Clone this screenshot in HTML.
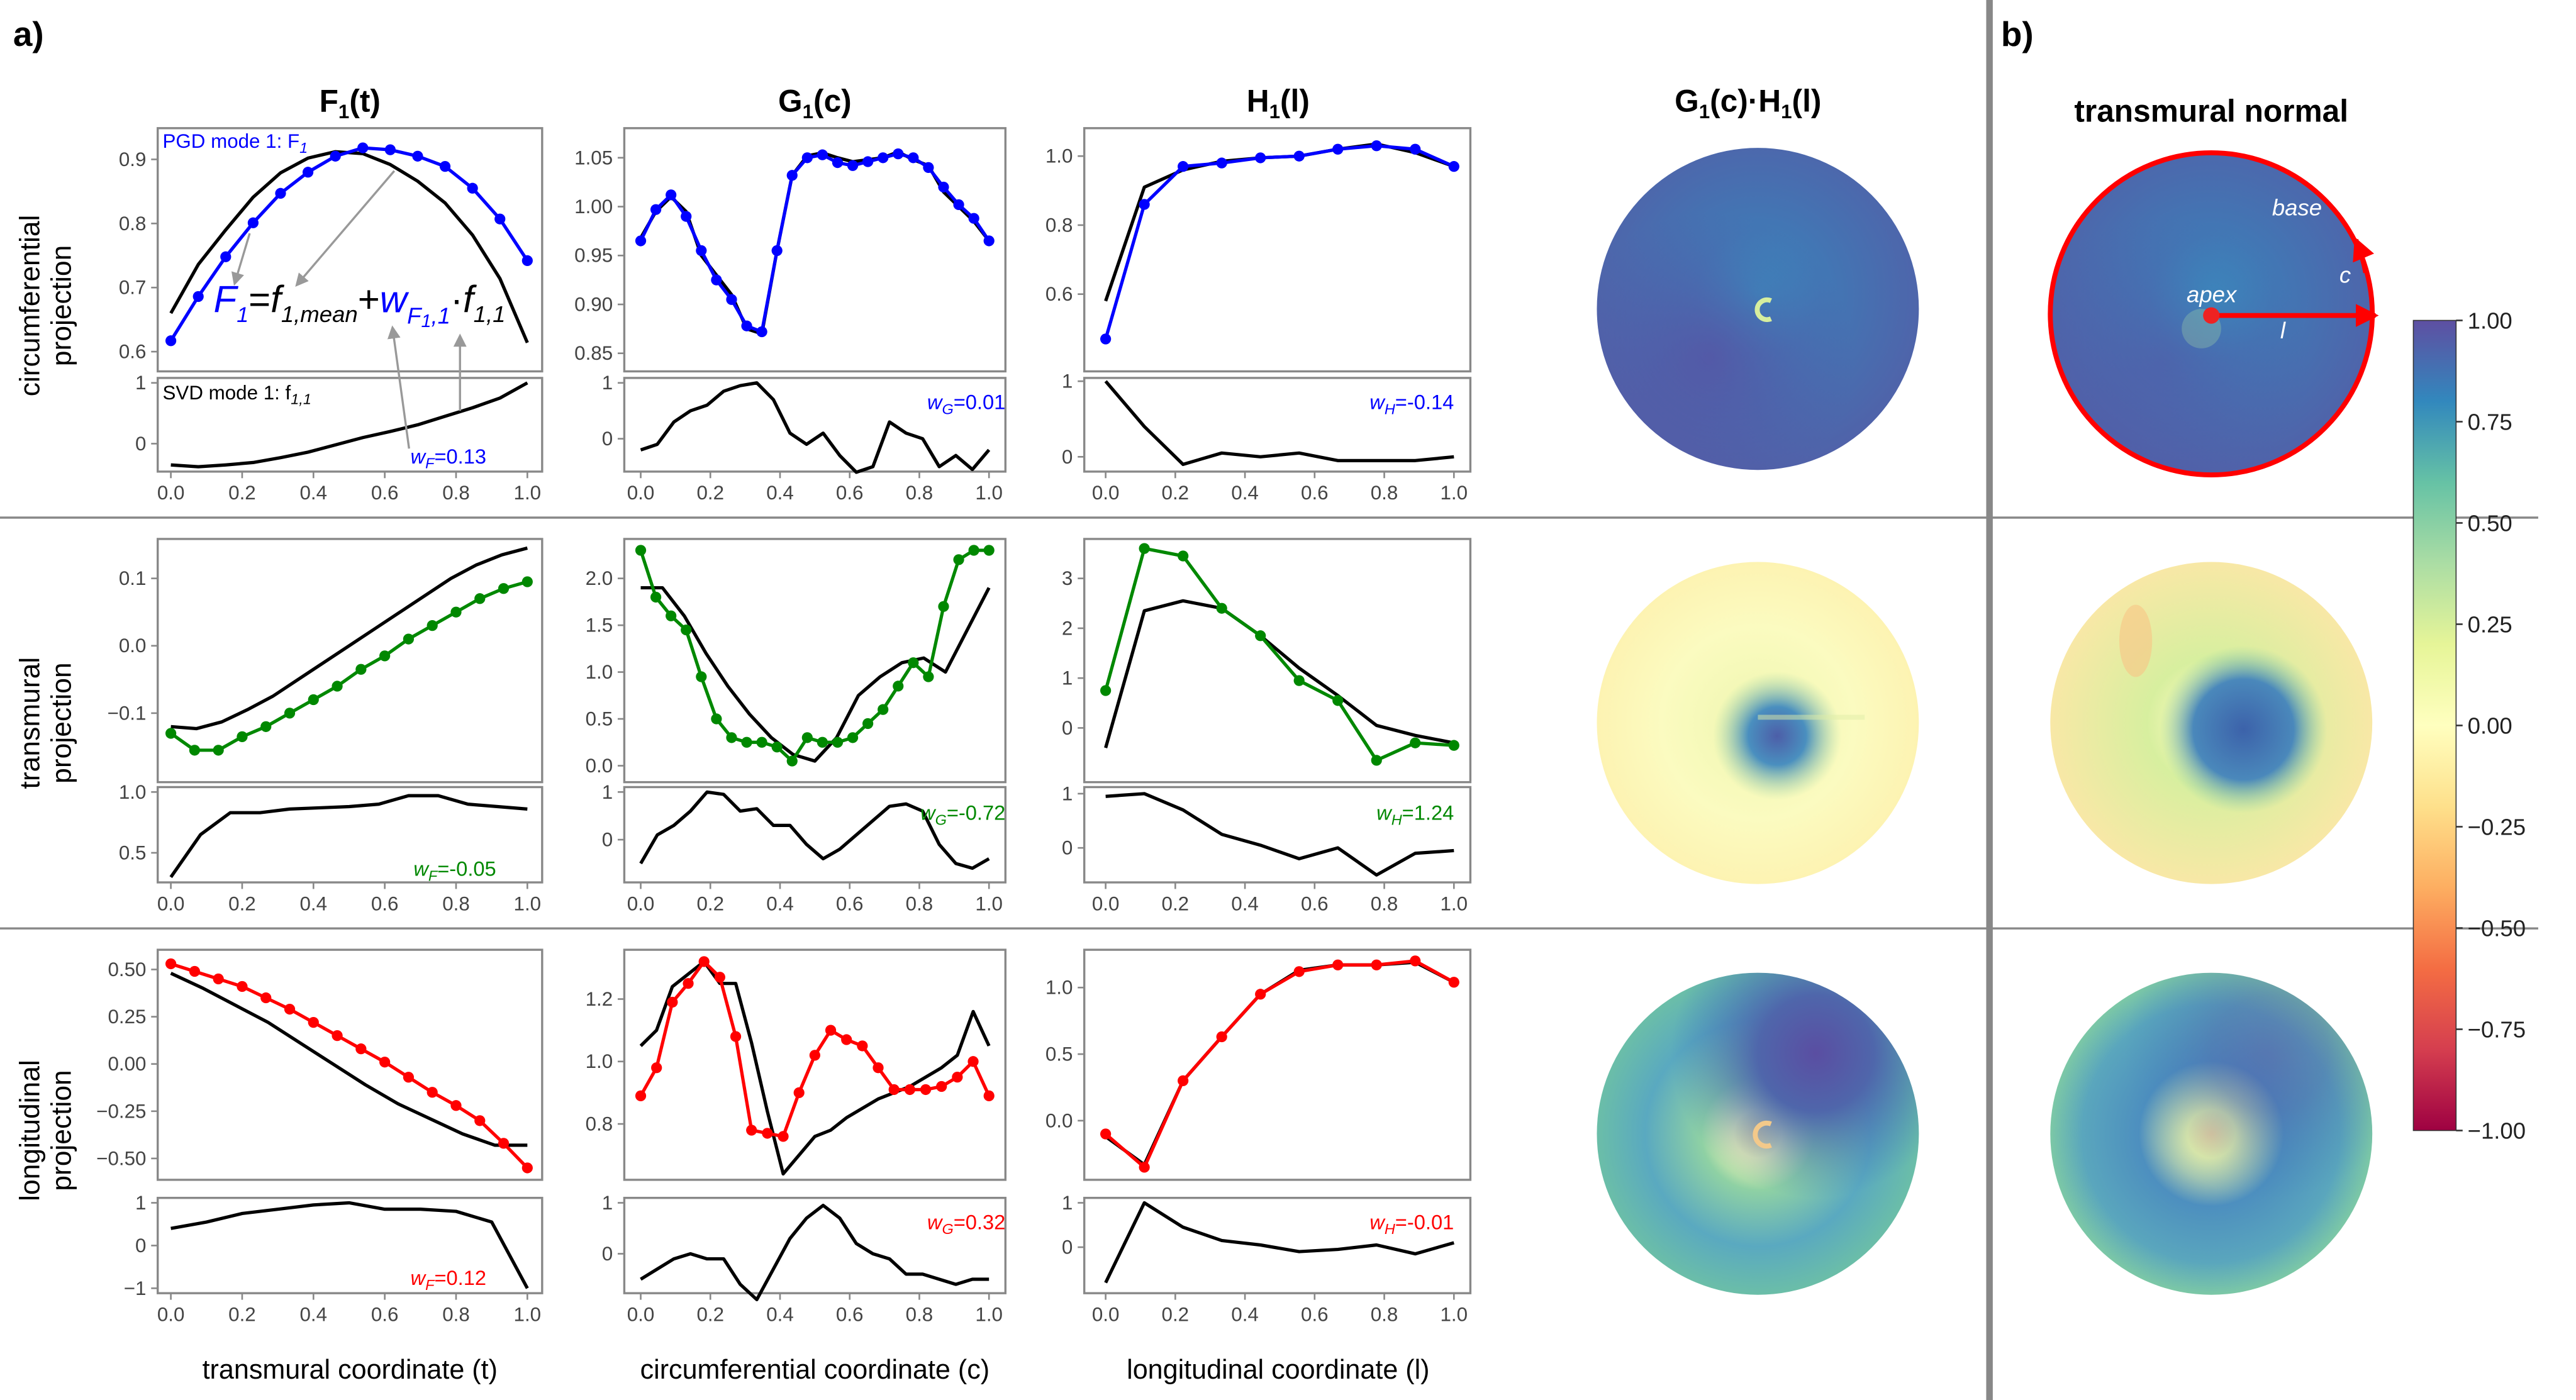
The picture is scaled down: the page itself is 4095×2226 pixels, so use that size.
<!DOCTYPE html>
<html><head><meta charset="utf-8"><style>
html,body{margin:0;padding:0;background:#fff}
svg{display:block}
text{font-family:"Liberation Sans","DejaVu Sans",sans-serif}
</style></head><body>
<svg id="fig" width="4095" height="2226" viewBox="0 0 1568 852" preserveAspectRatio="none" xmlns="http://www.w3.org/2000/svg">
<defs>
<linearGradient id="cbar" x1="0" y1="0" x2="0" y2="1">
<stop offset="0" stop-color="#5e4fa2"/><stop offset="0.1" stop-color="#3288bd"/><stop offset="0.2" stop-color="#66c2a5"/><stop offset="0.3" stop-color="#abdda4"/><stop offset="0.4" stop-color="#e6f598"/><stop offset="0.5" stop-color="#ffffbf"/><stop offset="0.6" stop-color="#fee08b"/><stop offset="0.7" stop-color="#fdae61"/><stop offset="0.8" stop-color="#f46d43"/><stop offset="0.9" stop-color="#d53e4f"/><stop offset="1" stop-color="#9e0142"/>
</linearGradient>
<radialGradient id="g1" cx="0.5" cy="0.45" r="0.55"><stop offset="0" stop-color="#3690c0"/><stop offset="0.35" stop-color="#4178b5"/><stop offset="1" stop-color="#5062a9"/></radialGradient>
<radialGradient id="g1b" cx="0.35" cy="0.65" r="0.45"><stop offset="0" stop-color="#5a4ea2" stop-opacity="0.7"/><stop offset="1" stop-color="#5a4ea2" stop-opacity="0"/></radialGradient>
<radialGradient id="g2" cx="0.5" cy="0.5" r="0.5"><stop offset="0" stop-color="#eef6b0"/><stop offset="0.6" stop-color="#fbfbc0"/><stop offset="1" stop-color="#fdf3b2"/></radialGradient>
<radialGradient id="g2b" cx="0.56" cy="0.54" r="0.2"><stop offset="0" stop-color="#4c5ea8"/><stop offset="0.45" stop-color="#4a8fbf"/><stop offset="1" stop-color="#9fd6a6" stop-opacity="0"/></radialGradient>
<radialGradient id="g3" cx="0.5" cy="0.5" r="0.5"><stop offset="0" stop-color="#f7e6a0"/><stop offset="0.15" stop-color="#f6f8b8"/><stop offset="0.4" stop-color="#d7ef9f"/><stop offset="1" stop-color="#f8e8a6"/></radialGradient>
<radialGradient id="g3b" cx="0.6" cy="0.52" r="0.26"><stop offset="0" stop-color="#3c62aa"/><stop offset="0.6" stop-color="#4a88bb"/><stop offset="1" stop-color="#8ccfa6" stop-opacity="0"/></radialGradient>
<radialGradient id="g4" cx="0.5" cy="0.5" r="0.5"><stop offset="0" stop-color="#fde1a0"/><stop offset="0.15" stop-color="#f7f7b5"/><stop offset="0.35" stop-color="#8fd1a4"/><stop offset="0.7" stop-color="#5aa9c0"/><stop offset="1" stop-color="#6bbea8"/></radialGradient>
<radialGradient id="g4b" cx="0.68" cy="0.25" r="0.45"><stop offset="0" stop-color="#5a4ea2"/><stop offset="0.4" stop-color="#4f66ab"/><stop offset="1" stop-color="#3f80b8" stop-opacity="0"/></radialGradient>
<radialGradient id="g5" cx="0.5" cy="0.5" r="0.5"><stop offset="0" stop-color="#f7d89a"/><stop offset="0.15" stop-color="#e8f2a8"/><stop offset="0.45" stop-color="#4d8fbf"/><stop offset="0.8" stop-color="#5aa6bd"/><stop offset="1" stop-color="#7cc8a6"/></radialGradient>
<marker id="ah" markerWidth="8" markerHeight="8" refX="6" refY="4" orient="auto" markerUnits="userSpaceOnUse"><path d="M0,0 L8,4 L0,8 z" fill="#999"/></marker>
<marker id="rh" markerWidth="14" markerHeight="14" refX="12" refY="7" orient="auto" markerUnits="userSpaceOnUse"><path d="M0,0 L14,7 L0,14 z" fill="#f00"/></marker>
</defs>
<g id="plots"></g>

<line x1="0" y1="315" x2="1545" y2="315" stroke="#888" stroke-width="1.3"/>
<line x1="0" y1="565" x2="1545" y2="565" stroke="#888" stroke-width="1.3"/>
<line x1="1211" y1="0" x2="1211" y2="852" stroke="#888" stroke-width="4"/>

<text x="8" y="28" font-size="21" font-weight="bold">a)</text>
<text x="1218" y="28" font-size="21" font-weight="bold">b)</text>

<text x="213" y="68" font-size="19" font-weight="bold" text-anchor="middle">F<tspan font-size="12" dy="4">1</tspan><tspan dy="-4">(t)</tspan></text>
<text x="496" y="68" font-size="19" font-weight="bold" text-anchor="middle">G<tspan font-size="12" dy="4">1</tspan><tspan dy="-4">(c)</tspan></text>
<text x="778" y="68" font-size="19" font-weight="bold" text-anchor="middle">H<tspan font-size="12" dy="4">1</tspan><tspan dy="-4">(l)</tspan></text>
<text x="1064" y="68" font-size="19" font-weight="bold" text-anchor="middle">G<tspan font-size="12" dy="4">1</tspan><tspan dy="-4">(c)·H</tspan><tspan font-size="12" dy="4">1</tspan><tspan dy="-4">(l)</tspan></text>
<text x="1346" y="74" font-size="19" font-weight="bold" text-anchor="middle">transmural normal</text>

<text transform="translate(24,186) rotate(-90)" font-size="17" text-anchor="middle"><tspan x="0" y="0">circumferential</tspan><tspan x="0" y="19">projection</tspan></text>
<text transform="translate(24,440) rotate(-90)" font-size="17" text-anchor="middle"><tspan x="0" y="0">transmural</tspan><tspan x="0" y="19">projection</tspan></text>
<text transform="translate(24,688) rotate(-90)" font-size="17" text-anchor="middle"><tspan x="0" y="0">longitudinal</tspan><tspan x="0" y="19">projection</tspan></text>

<text x="213" y="839" font-size="16.5" text-anchor="middle">transmural coordinate (t)</text>
<text x="496" y="839" font-size="16.5" text-anchor="middle">circumferential coordinate (c)</text>
<text x="778" y="839" font-size="16.5" text-anchor="middle">longitudinal coordinate (l)</text>

<g><circle cx="1070" cy="188" r="98" fill="url(#g1)"/><circle cx="1070" cy="188" r="98" fill="url(#g1b)"/><path d="M1078,183 A6,6 0 1 0 1078,194" fill="none" stroke="#d7ee9e" stroke-width="3"/></g>
<g><circle cx="1070" cy="440" r="98" fill="url(#g2)"/><circle cx="1070" cy="440" r="98" fill="url(#g2b)"/><rect x="1070" y="435" width="65" height="3" fill="#e0eea8" opacity="0.5"/></g>
<g><circle cx="1070" cy="690" r="98" fill="url(#g4)"/><circle cx="1070" cy="690" r="98" fill="url(#g4b)"/><path d="M1078,684 A7,7 0 1 0 1078,697" fill="none" stroke="#f3c98a" stroke-width="3"/></g>
<g><circle cx="1346" cy="191" r="98" fill="url(#g1)"/><circle cx="1346" cy="191" r="98" fill="url(#g1b)" opacity="0.6"/><circle cx="1340" cy="200" r="12" fill="#a9d9a6" opacity="0.3"/></g>
<g><circle cx="1346" cy="440" r="98" fill="url(#g3)"/><circle cx="1346" cy="440" r="98" fill="url(#g3b)"/><ellipse cx="1300" cy="390" rx="10" ry="22" fill="#f9c486" opacity="0.6"/></g>
<g><circle cx="1346" cy="690" r="98" fill="url(#g5)"/><circle cx="1346" cy="690" r="98" fill="url(#g4b)" opacity="0.45"/></g>

<circle cx="1346" cy="191" r="98" fill="none" stroke="#f00" stroke-width="3"/>
<path d="M1440,166 A98,98 0 0 0 1434,146" fill="none" stroke="#f00" stroke-width="3" marker-end="url(#rh)"/>
<line x1="1346" y1="192" x2="1446" y2="192" stroke="#f00" stroke-width="3" marker-end="url(#rh)"/>
<circle cx="1346" cy="192" r="5" fill="#e22"/>
<text x="1383" y="131" font-size="14" font-style="italic" fill="#fff">base</text>
<text x="1424" y="172" font-size="14" font-style="italic" fill="#fff">c</text>
<text x="1331" y="184" font-size="14" font-style="italic" fill="#fff">apex</text>
<text x="1388" y="206" font-size="14" font-style="italic" fill="#fff">l</text>

<g>
<rect x="1469" y="195" width="26" height="493" fill="url(#cbar)" stroke="#333" stroke-width="0.6"/>
<g id="cbticks"></g>
</g>

<text x="99" y="90" font-size="12" fill="#00f">PGD mode 1: F<tspan font-size="9" font-style="italic" dy="3">1</tspan></text>
<text x="99" y="243" font-size="12" fill="#000">SVD mode 1: f<tspan font-size="9" font-style="italic" dy="3">1,1</tspan></text>
<text x="130" y="190" font-size="23" font-style="italic"><tspan fill="#00f">F</tspan><tspan fill="#00f" font-size="13" dy="6">1</tspan><tspan dy="-6" font-style="normal">=</tspan><tspan>f</tspan><tspan font-size="14" dy="6">1,mean</tspan><tspan dy="-6" font-style="normal">+</tspan><tspan fill="#00f">w</tspan><tspan fill="#00f" font-size="14" dy="7">F</tspan><tspan fill="#00f" font-size="11" dy="2">1</tspan><tspan fill="#00f" font-size="14" dy="-2">,1</tspan><tspan dy="-7" font-style="normal">·</tspan><tspan>f</tspan><tspan font-size="14" dy="6">1,1</tspan></text>
<g stroke="#999" stroke-width="1.3" fill="none">
<line x1="152" y1="142" x2="143" y2="172" marker-end="url(#ah)"/>
<line x1="240" y1="104" x2="181" y2="173" marker-end="url(#ah)"/>
<line x1="249" y1="273" x2="239" y2="200" marker-end="url(#ah)"/>
<line x1="280" y1="250" x2="280" y2="205" marker-end="url(#ah)"/>
</g>
</svg>
<script>
// ---------- data ----------
const r1F_pgd = [0.617,0.686,0.748,0.801,0.847,0.880,0.905,0.918,0.915,0.905,0.889,0.855,0.807,0.742];
const r1F_mean = [0.660,0.736,0.790,0.841,0.879,0.902,0.912,0.909,0.892,0.866,0.832,0.782,0.714,0.614];
const r1F_svd = [-0.35,-0.38,-0.35,-0.31,-0.23,-0.14,-0.02,0.10,0.20,0.31,0.45,0.59,0.75,1.0];
const r1G_pgd = [0.965,0.997,1.012,0.99,0.955,0.925,0.905,0.878,0.872,0.955,1.032,1.05,1.053,1.045,1.042,1.046,1.05,1.054,1.05,1.04,1.02,1.002,0.988,0.965];
const r1G_mean = [0.968,0.995,1.01,0.995,0.95,0.93,0.91,0.875,0.87,0.955,1.032,1.052,1.055,1.05,1.046,1.048,1.05,1.056,1.048,1.042,1.015,1.0,0.985,0.965];
const r1G_svd = [-0.2,-0.1,0.3,0.5,0.6,0.85,0.95,1.0,0.7,0.1,-0.1,0.1,-0.3,-0.6,-0.5,0.3,0.1,0.0,-0.5,-0.3,-0.55,-0.2];
const r1H_pgd = [0.47,0.86,0.97,0.98,0.995,1.0,1.02,1.03,1.02,0.97];
const r1H_mean = [0.58,0.91,0.96,0.985,0.995,1.0,1.02,1.035,1.01,0.97];
const r1H_svd = [1.0,0.4,-0.1,0.05,0.0,0.05,-0.05,-0.05,-0.05,0.0];
const r2F_pgd = [-0.13,-0.155,-0.155,-0.135,-0.12,-0.10,-0.08,-0.06,-0.035,-0.015,0.01,0.03,0.05,0.07,0.085,0.095];
const r2F_mean = [-0.12,-0.123,-0.113,-0.095,-0.075,-0.05,-0.025,0.0,0.025,0.05,0.075,0.10,0.12,0.135,0.145];
const r2F_svd = [0.3,0.65,0.83,0.83,0.86,0.87,0.88,0.9,0.97,0.97,0.9,0.88,0.86];
const r2G_pgd = [2.3,1.8,1.6,1.45,0.95,0.5,0.3,0.25,0.25,0.2,0.05,0.3,0.25,0.25,0.3,0.45,0.6,0.85,1.1,0.95,1.7,2.2,2.3,2.3];
const r2G_mean = [1.9,1.9,1.6,1.2,0.85,0.55,0.3,0.12,0.05,0.3,0.75,0.95,1.1,1.15,1.0,1.45,1.9];
const r2G_svd = [-0.5,0.1,0.3,0.6,1.0,0.95,0.6,0.65,0.3,0.3,-0.1,-0.4,-0.2,0.1,0.4,0.7,0.75,0.6,-0.1,-0.5,-0.6,-0.4];
const r2H_pgd = [0.75,3.6,3.45,2.4,1.85,0.95,0.55,-0.65,-0.3,-0.35];
const r2H_mean = [-0.4,2.35,2.55,2.4,1.85,1.2,0.65,0.05,-0.15,-0.3];
const r2H_svd = [0.95,1.0,0.7,0.25,0.05,-0.2,0.0,-0.5,-0.1,-0.05];
const r3F_pgd = [0.53,0.49,0.45,0.41,0.35,0.29,0.22,0.15,0.08,0.01,-0.07,-0.15,-0.22,-0.30,-0.42,-0.55];
const r3F_mean = [0.48,0.40,0.31,0.22,0.11,0.0,-0.11,-0.21,-0.29,-0.37,-0.43,-0.43];
const r3F_svd = [0.4,0.55,0.75,0.85,0.95,1.0,0.85,0.85,0.8,0.55,-1.0];
const r3G_pgd = [0.89,0.98,1.19,1.25,1.32,1.27,1.08,0.78,0.77,0.76,0.90,1.02,1.10,1.07,1.05,0.98,0.91,0.91,0.91,0.92,0.95,1.0,0.89];
const r3G_mean = [1.05,1.1,1.24,1.28,1.32,1.25,1.25,1.06,0.84,0.64,0.7,0.76,0.78,0.82,0.85,0.88,0.9,0.92,0.95,0.98,1.02,1.16,1.05];
const r3G_svd = [-0.5,-0.3,-0.1,0.0,-0.1,-0.1,-0.6,-0.9,-0.3,0.3,0.7,0.95,0.7,0.2,0.0,-0.1,-0.4,-0.4,-0.5,-0.6,-0.5,-0.5];
const r3H_pgd = [-0.1,-0.35,0.3,0.63,0.95,1.12,1.17,1.17,1.2,1.04];
const r3H_mean = [-0.12,-0.33,0.3,0.63,0.95,1.13,1.17,1.17,1.19,1.04];
const r3H_svd = [-0.8,1.0,0.45,0.15,0.05,-0.1,-0.05,0.05,-0.15,0.1];
const xTickLabels = ["0.0","0.2","0.4","0.6","0.8","1.0"];
const cbTicks = [1.0,0.75,0.5,0.25,0.0,-0.25,-0.5,-0.75,-1.0];
const cbLabels = ["1.00","0.75","0.50","0.25","0.00","\u22120.25","\u22120.50","\u22120.75","\u22121.00"];

// ---------- layout ----------
const NS="http://www.w3.org/2000/svg";
const plots=document.getElementById('plots');
function mk(tag,attrs,parent){const e=document.createElementNS(NS,tag);for(const k in attrs)e.setAttribute(k,attrs[k]);(parent||plots).appendChild(e);return e;}
function lin(v1,p1,v2,p2){return v=>p1+(v-v1)*(p2-p1)/(v2-v1);}
const cols=[{bx:96,bw:234,x0:104,x1:321},{bx:380,bw:232,x0:390,x1:602},{bx:660,bw:235,x0:673,x1:885}];
function fmt(v,d){const s=v.toFixed(d);return v<0?'\u2212'+s.slice(1):s;}
function axes(name,col,y0,y1,yTicks,dec,yv1,yp1,yv2,yp2,xlabels){
  const g=mk('g',{});
  
  
  mk('rect',{x:col.bx,y:y0,width:col.bw,height:y1-y0,fill:'none',stroke:'#888','stroke-width':1.3},g);
  const ys=lin(yv1,yp1,yv2,yp2);
  yTicks.forEach(v=>{const p=ys(v);
    mk('line',{x1:col.bx-4,y1:p,x2:col.bx,y2:p,stroke:'#888','stroke-width':1},g);
    const t=mk('text',{x:col.bx-7,y:p+4,'font-size':12,'text-anchor':'end',fill:'#444'},g);
    
    
    t.textContent=fmt(v,dec);});
  const xs=lin(0,col.x0,1,col.x1);
  if(xlabels){xTickLabels.forEach(l=>{const p=xs(parseFloat(l));
    mk('line',{x1:p,y1:y1,x2:p,y2:y1+4,stroke:'#888','stroke-width':1},g);
    const t=mk('text',{x:p,y:y1+17,'font-size':12,'text-anchor':'middle',fill:'#444'},g);
    
    
    t.textContent=l;});}
  return {g,xs,ys};
}
function line(ax,vals,color,markers,name){
  const n=vals.length;
  const pts=vals.map((v,i)=>[ax.xs(i/(n-1)),ax.ys(v)]);
  const pl=mk('polyline',{points:pts.map(p=>p.join(',')).join(' '),fill:'none',stroke:color,'stroke-width':2,'stroke-linejoin':'round'},ax.g);
  
  
  if(markers)pts.forEach(p=>{const c=mk('circle',{cx:p[0],cy:p[1],r:3.3,fill:color},ax.g);
    
    });
}
function wlabel(x,y,letter,val,color){
  const t=mk('text',{x:x,y:y,'font-size':12.5,fill:color,'text-anchor':'end'});
  
  
  t.innerHTML='<tspan font-style="italic">w</tspan><tspan font-style="italic" font-size="9" dy="3">'+letter+'</tspan><tspan dy="-3">='+val+'</tspan>';
}
let a;
a=axes('panel-f-circ',cols[0],78,226,[0.6,0.7,0.8,0.9],1,0.6,214,0.9,97);line(a,r1F_mean,'#000',false,'f-mean-line');line(a,r1F_pgd,'#00f',true,'pgd-f-line');
a=axes('panel-f-circ-svd',cols[0],230,287,[0,1],0,0,270,1,233,true);line(a,r1F_svd,'#000',false,'svd-f-line');
a=axes('panel-g-circ',cols[1],78,226,[0.85,0.90,0.95,1.00,1.05],2,0.85,215,1.05,96);line(a,r1G_mean,'#000',false,'g-mean-line');line(a,r1G_pgd,'#00f',true,'pgd-g-line');
a=axes('panel-g-circ-svd',cols[1],230,287,[0,1],0,0,267,1,233,true);line(a,r1G_svd,'#000',false,'svd-g-line');
a=axes('panel-h-circ',cols[2],78,226,[0.6,0.8,1.0],1,0.6,179,1.0,95);line(a,r1H_mean,'#000',false,'h-mean-line');line(a,r1H_pgd,'#00f',true,'pgd-h-line');
a=axes('panel-h-circ-svd',cols[2],230,287,[0,1],0,0,278,1,232,true);line(a,r1H_svd,'#000',false,'svd-h-line');
wlabel(296,282,'F','0.13','#00f');wlabel(612,249,'G','0.01','#00f');wlabel(885,249,'H','-0.14','#00f');
a=axes('panel-f-trans',cols[0],328,476,[-0.1,0.0,0.1],1,0,393,0.1,352);line(a,r2F_mean,'#000',false,'f-mean-line');line(a,r2F_pgd,'#080',true,'pgd-f-line');
a=axes('panel-f-trans-svd',cols[0],479,537,[0.5,1.0],1,0.5,519,1.0,482,true);line(a,r2F_svd,'#000',false,'svd-f-line');
a=axes('panel-g-trans',cols[1],328,476,[0.0,0.5,1.0,1.5,2.0],1,0,466,2,352);line(a,r2G_mean,'#000',false,'g-mean-line');line(a,r2G_pgd,'#080',true,'pgd-g-line');
a=axes('panel-g-trans-svd',cols[1],479,537,[0,1],0,0,511,1,482,true);line(a,r2G_svd,'#000',false,'svd-g-line');
a=axes('panel-h-trans',cols[2],328,476,[0,1,2,3],0,0,443,3,352);line(a,r2H_mean,'#000',false,'h-mean-line');line(a,r2H_pgd,'#080',true,'pgd-h-line');
a=axes('panel-h-trans-svd',cols[2],479,537,[0,1],0,0,516,1,483,true);line(a,r2H_svd,'#000',false,'svd-h-line');
wlabel(302,533,'F','-0.05','#080');wlabel(612,499,'G','-0.72','#080');wlabel(885,499,'H','1.24','#080');
a=axes('panel-f-long',cols[0],578,718,[-0.5,-0.25,0.0,0.25,0.5],2,-0.5,705,0.5,590);line(a,r3F_mean,'#000',false,'f-mean-line');line(a,r3F_pgd,'#f00',true,'pgd-f-line');
a=axes('panel-f-long-svd',cols[0],729,787,[-1,0,1],0,-1,784,1,732,true);line(a,r3F_svd,'#000',false,'svd-f-line');
a=axes('panel-g-long',cols[1],578,718,[0.8,1.0,1.2],1,0.8,684,1.2,608);line(a,r3G_mean,'#000',false,'g-mean-line');line(a,r3G_pgd,'#f00',true,'pgd-g-line');
a=axes('panel-g-long-svd',cols[1],729,787,[0,1],0,0,763,1,732,true);line(a,r3G_svd,'#000',false,'svd-g-line');
a=axes('panel-h-long',cols[2],578,718,[0.0,0.5,1.0],1,0,682,1,601);line(a,r3H_mean,'#000',false,'h-mean-line');line(a,r3H_pgd,'#f00',true,'pgd-h-line');
a=axes('panel-h-long-svd',cols[2],729,787,[0,1],0,0,759,1,732,true);line(a,r3H_svd,'#000',false,'svd-h-line');
wlabel(296,782,'F','0.12','#f00');wlabel(612,748,'G','0.32','#f00');wlabel(885,748,'H','-0.01','#f00');
const cbg=document.getElementById('cbticks');
const cby=lin(1,195,-1,688);
cbTicks.forEach((v,i)=>{const p=cby(v);
  mk('line',{x1:1495,y1:p,x2:1499,y2:p,stroke:'#333','stroke-width':1},cbg);
  const t=mk('text',{x:1502,y:p+5,'font-size':14,fill:'#222'},cbg);
  
  
  t.textContent=cbLabels[i];});
</script>
</body></html>
